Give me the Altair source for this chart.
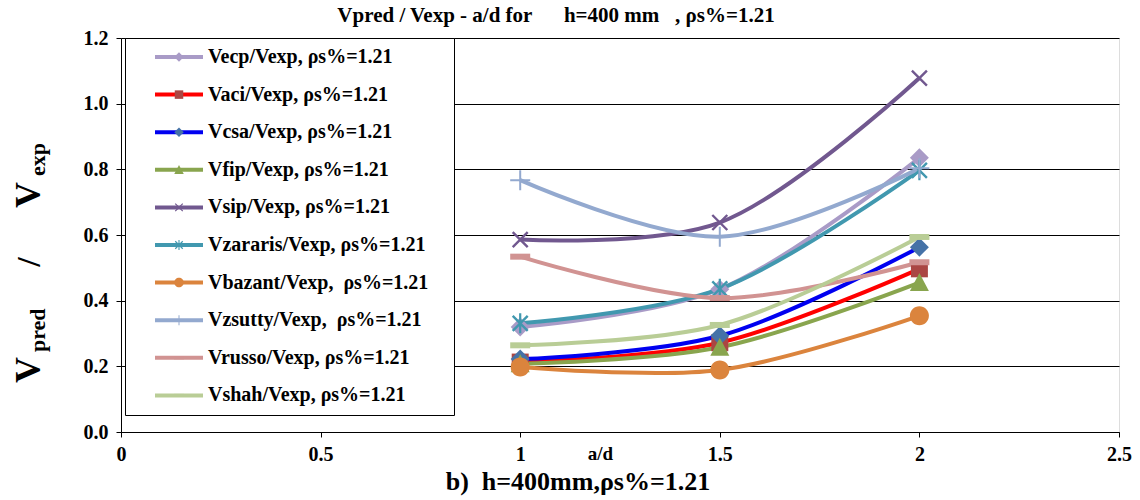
import altair as alt
import pandas as pd

# ---------------- data ----------------
ad_values = [1.0, 1.5, 2.0]

series_names = [
    "Vecp/Vexp, ρs%=1.21",
    "Vaci/Vexp, ρs%=1.21",
    "Vcsa/Vexp, ρs%=1.21",
    "Vfip/Vexp, ρs%=1.21",
    "Vsip/Vexp, ρs%=1.21",
    "Vzararis/Vexp, ρs%=1.21",
    "Vbazant/Vexp,\u00a0 ρs%=1.21",
    "Vzsutty/Vexp,\u00a0 ρs%=1.21",
    "Vrusso/Vexp, ρs%=1.21",
    "Vshah/Vexp, ρs%=1.21",
]

vecp = [0.320, 0.435, 0.835]
vaci = [0.213, 0.272, 0.497]
vcsa = [0.222, 0.293, 0.563]
vfip = [0.208, 0.258, 0.455]
vsip = [0.586, 0.638, 1.078]
vzararis = [0.331, 0.436, 0.797]
vbazant = [0.198, 0.189, 0.354]
vzsutty = [0.767, 0.595, 0.803]
vrusso = [0.534, 0.408, 0.517]
vshah = [0.264, 0.326, 0.594]

series_values = [vecp, vaci, vcsa, vfip, vsip, vzararis, vbazant, vzsutty, vrusso, vshah]

# ---------------- styles ----------------
line_colors = ["#A99BC7", "#FF0000", "#0000F0", "#89A54E", "#71588F",
               "#4198AF", "#DB843D", "#93A9CF", "#D19392", "#B9CD96"]
marker_colors = ["#A99BC7", "#AA4643", "#4572A7", "#89A54E", "#71588F",
                 "#4198AF", "#DB843D", "#93A9CF", "#D19392", "#B9CD96"]


def rect(x0, y0, x1, y1):
    return f"M{x0},{y0}L{x1},{y0}L{x1},{y1}L{x0},{y1}Z"


def xcross(e, w):
    a = round(w * 0.7071, 3)
    r1 = f"M{-e + a},{-e - a}L{e + a},{e - a}L{e - a},{e + a}L{-e - a},{-e + a}Z"
    r2 = f"M{e - a},{-e - a}L{e + a},{-e + a}L{-e + a},{e + a}L{-e - a},{e - a}Z"
    return r1 + r2


diamond = "M0,-0.95L0.95,0L0,0.95L-0.95,0Z"
square = rect(-0.85, -0.85, 0.85, 0.85)
triangle = "M0,-0.95L0.95,0.85L-0.95,0.85Z"
circle = "M-0.95,0A0.95,0.95 0 1,1 0.95,0A0.95,0.95 0 1,1 -0.95,0Z"
xmark = xcross(0.75, 0.12)
asterisk = xcross(0.75, 0.12) + rect(-0.11, -1, 0.11, 1)
plus = rect(-0.1, -1, 0.1, 1) + rect(-1, -0.1, 1, 0.1)
dash = rect(-1, -0.3, 1, 0.3)

marker_paths = [diamond, square, diamond, triangle, xmark, asterisk, circle, plus, dash, dash]

rows = []
for i, (name, vals) in enumerate(zip(series_names, series_values)):
    for a, v in zip(ad_values, vals):
        rows.append({"series": name, "idx": i, "ad": a, "ratio": v})
df = pd.DataFrame(rows)

ZW = "\u200b"
series_m_names = [s + ZW for s in series_names]

FONT = "Liberation Serif"
NB = "\u00a0"

legend_common = dict(
    orient="none", legendX=4, legendY=0, title=None,
    symbolSize=100, padding=9, rowPadding=17.6,
    symbolOffset=35,
    labelFont=FONT, labelFontSize=20, labelFontWeight="bold",
    labelColor="black", labelLimit=500,
)

x_enc = alt.X("ad:Q", scale=alt.Scale(domain=[0, 2.5], nice=False, zero=False),
              axis=alt.Axis(values=[0, 0.5, 1, 1.5, 2, 2.5], format="~g",
                            title="a/d", titleX=479, titleY=21, titleBaseline="middle",
                            titleFont=FONT, titleFontSize=19, titleFontWeight="bold",
                            titleColor="black", titleAnchor="start", titleAlign="center",
                            labelFont=FONT, labelFontSize=20, labelFontWeight="bold",
                            labelColor="black", labelPadding=7, tickSize=5,
                            tickColor="black", domainColor="black", grid=False,
                            labelFlush=False))
y_enc = alt.Y("ratio:Q", scale=alt.Scale(domain=[0, 1.2], nice=False),
              axis=alt.Axis(values=[0, 0.2, 0.4, 0.6, 0.8, 1.0, 1.2], format=".1f",
                            title=None, labelFont=FONT, labelFontSize=20,
                            labelFontWeight="bold", labelColor="black", labelPadding=8,
                            tickSize=5, tickColor="black", domainColor="black",
                            grid=True, gridColor="black", gridWidth=1))

# line legend: white box + line symbols; its (empty) labels only widen the box
lines = alt.Chart(df).mark_line(interpolate="catmull-rom", strokeWidth=4).encode(
    x=x_enc,
    y=y_enc,
    stroke=alt.Stroke("series:N", scale=alt.Scale(domain=series_names, range=line_colors),
                      legend=alt.Legend(symbolType="M-4.8,0L4.8,0", symbolStrokeWidth=4,
                                        fillColor="white", strokeColor="black",
                                        labelExpr="''", labelOffset=256,
                                        **legend_common)),
    detail="idx:N",
)

# marker legend drawn on top: markers + visible labels
points = alt.Chart(df).transform_calculate(
    series_m="datum.series + '" + ZW + "'"
).mark_point(filled=True, size=400, opacity=1, strokeWidth=0).encode(
    x=alt.X("ad:Q"),
    y=alt.Y("ratio:Q"),
    fill=alt.Fill("series_m:N", scale=alt.Scale(domain=series_m_names, range=marker_colors),
                  legend=alt.Legend(labelOffset=19, **legend_common)),
    shape=alt.Shape("series_m:N", scale=alt.Scale(domain=series_m_names, range=marker_paths),
                    legend=alt.Legend(labelOffset=19, **legend_common)),
    order="idx:Q",
)


def label(text, size, x, y, align="left", angle=0, baseline="alphabetic"):
    return alt.Chart(pd.DataFrame({"t": [text]})).mark_text(
        font=FONT, fontSize=size, fontWeight="bold", color="black",
        align=align, baseline=baseline, angle=angle,
    ).encode(text="t:N", x=alt.value(x), y=alt.value(y))


# y-axis title: V_pred / V_exp (rotated, with subscripts)
ytitle = [
    label("V", 36, 40 - 121, 383 - 38, angle=270),
    label("pred", 22, 45 - 121, 352 - 38, angle=270),
    label("/", 34, 40 - 121, 262 - 38, angle=270, align="center"),
    label("V", 36, 40 - 121, 208 - 38, angle=270),
    label("exp", 22, 45 - 121, 176 - 38, angle=270),
]

title = label("Vpred / Vexp - a/d for" + NB * 5 + " h=400 mm" + NB * 2 + " , ρs%=1.21",
              21, 556 - 121, 22 - 38, align="center")

caption = label("b)\u00a0 h=400mm,ρs%=1.21", 26, 578 - 121, 490 - 38, align="center")

chart = alt.layer(lines, points, *ytitle, title, caption).properties(
    width=998, height=394,
    padding={"left": 121, "top": 38, "right": 21, "bottom": 68},
    autosize=alt.AutoSizeParams(type="none"),
).configure_view(stroke="#808080", strokeWidth=1.5).configure(background="white")

chart.save("out.html", embed_options={"renderer": "svg", "actions": False})
